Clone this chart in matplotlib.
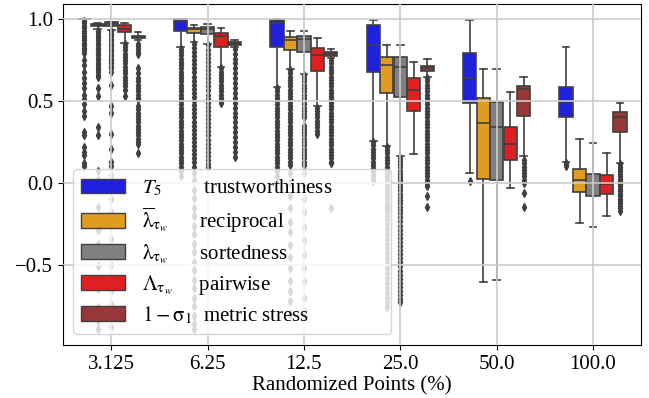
import matplotlib as mpl
import matplotlib.pyplot as plt
from matplotlib.patches import Patch

# x categories: share of randomized points (%)
groups = ["3.125", "6.25", "12.5", "25.0", "50.0", "100.0"]

labels = [
    r"$T_5$        trustworthiness",
    r"$\overline{\mathrm{\lambda}}_{\mathrm{\tau}_w}$      reciprocal",
    r"$\mathrm{\lambda}_{\mathrm{\tau}_w}$      sortedness",
    r"$\mathrm{\Lambda}_{\mathrm{\tau}_w}$     pairwise",
    r"$1-\mathrm{\sigma}_1$  metric stress",
]
colors = ["#2020df", "#df9c20", "#808080", "#df2020", "#983838"]
LINE = "#3f3f3f"

# (whislo, q1, median, q3, whishi) per group
trust = [(1.0, 1.0, 1.0, 1.0, 1.0), (0.833, 0.929, 0.99, 1.0, 1.0),
         (0.585, 0.833, 0.976, 0.996, 1.0), (0.259, 0.68, 0.843, 0.963, 0.998),
         (0.061, 0.487, 0.642, 0.796, 0.998), (0.128, 0.401, 0.495, 0.585, 0.833)]
recip = [(0.94, 0.958, 0.966, 0.972, 0.978), (0.859, 0.914, 0.939, 0.949, 0.965),
         (0.695, 0.813, 0.87, 0.89, 0.925), (0.228, 0.55, 0.719, 0.772, 0.843),
         (-0.605, 0.022, 0.365, 0.517, 0.695), (-0.246, -0.053, 0.016, 0.084, 0.267)]
sortd = [(0.935, 0.958, 0.97, 0.98, 0.985), (0.847, 0.91, 0.939, 0.955, 0.969),
         (0.666, 0.802, 0.88, 0.9, 0.929), (0.163, 0.527, 0.707, 0.772, 0.843),
         (-0.593, 0.016, 0.344, 0.495, 0.695), (-0.271, -0.081, 0.0, 0.057, 0.246)]
pairw = [(0.857, 0.921, 0.943, 0.965, 0.976), (0.711, 0.833, 0.898, 0.918, 0.945),
         (0.47, 0.684, 0.782, 0.827, 0.884), (0.179, 0.442, 0.566, 0.644, 0.741),
         (-0.029, 0.14, 0.236, 0.34, 0.554), (-0.2, -0.067, -0.004, 0.047, 0.181)]
stress = [(0.874, 0.884, 0.894, 0.9, 0.919), (0.829, 0.843, 0.853, 0.859, 0.874),
          (0.762, 0.778, 0.788, 0.798, 0.817), (0.646, 0.686, 0.705, 0.717, 0.756),
          (0.163, 0.411, 0.572, 0.593, 0.646), (0.12, 0.31, 0.405, 0.436, 0.491)]

# outliers per group
trust_fl = [
    [0.99, 0.975, 0.96, 0.945, 0.93, 0.915, 0.9, 0.885, 0.87, 0.855, 0.84, 0.825, 0.81, 0.795,
     0.75, 0.72, 0.68, 0.64, 0.61, 0.58, 0.54, 0.51, 0.48, 0.44, 0.41, 0.31, 0.29, 0.22, 0.19,
     0.17, 0.12, 0.105],
    [0.82, 0.8, 0.78, 0.76, 0.74, 0.72, 0.7, 0.68, 0.66, 0.64, 0.62, 0.6, 0.58, 0.56, 0.54,
     0.52, 0.5, 0.48, 0.46, 0.44, 0.42, 0.4, 0.38, 0.36, 0.34, 0.32, 0.3, 0.28, 0.26, 0.24,
     0.22, 0.2, 0.18, 0.16, 0.14, 0.12, 0.1, 0.07, 0.04],
    [0.58, 0.56, 0.54, 0.52, 0.5, 0.48, 0.46, 0.44, 0.42, 0.4, 0.38, 0.36, 0.34, 0.32, 0.3,
     0.28, 0.26, 0.24, 0.22, 0.2, 0.18, 0.16, 0.14, 0.12, 0.1, 0.07, 0.04],
    [0.25, 0.23, 0.21, 0.19, 0.17, 0.15, 0.13, 0.11, 0.09, 0.07, 0.05, 0.03, 0.01],
    [0.01],
    [0.12, 0.11, 0.105],
]
recip_fl = [
    [0.93, 0.915, 0.9, 0.885, 0.87, 0.855, 0.84, 0.825, 0.81, 0.795, 0.78, 0.765, 0.75, 0.735,
     0.72, 0.705, 0.69, 0.675, 0.66, 0.65, 0.58, 0.53, 0.34, 0.29, 0.07, 0.02, -0.145, -0.23,
     -0.29, -0.37, -0.43, -0.51, -0.61, -0.65, -0.76, -0.84, -0.89],
    [0.85, 0.825, 0.8, 0.775, 0.75, 0.725, 0.7, 0.675, 0.65, 0.625, 0.6, 0.575, 0.55, 0.525,
     0.5, 0.475, 0.45, 0.425, 0.4, 0.375, 0.35, 0.325, 0.3, 0.275, 0.25, 0.225, 0.2, 0.175,
     0.15, 0.125, 0.1, 0.06, 0.02, -0.04, -0.09, -0.15, -0.2, -0.26, -0.31, -0.37, -0.42,
     -0.48, -0.53, -0.59, -0.64, -0.7, -0.75, -0.81, -0.86, -0.89],
    [0.69, 0.67, 0.65, 0.63, 0.61, 0.59, 0.57, 0.55, 0.53, 0.51, 0.49, 0.47, 0.45, 0.43, 0.41,
     0.39, 0.37, 0.35, 0.33, 0.31, 0.29, 0.27, 0.25, 0.23, 0.21, 0.19, 0.17, 0.15, 0.13, 0.11,
     0.06, 0.0, -0.08, -0.15, -0.24, -0.3, -0.38, -0.45, -0.52, -0.6, -0.66, -0.72, -0.8],
    [0.22, 0.2, 0.18, 0.16, 0.14, 0.12, 0.1, 0.08, 0.06, 0.04, 0.02, 0.0, -0.02, -0.04, -0.06,
     -0.08, -0.1, -0.12, -0.14, -0.16, -0.18, -0.2, -0.22, -0.25, -0.28, -0.31, -0.34, -0.37,
     -0.4, -0.43, -0.46, -0.49, -0.52, -0.55, -0.58, -0.61, -0.64, -0.67, -0.7, -0.73, -0.756],
    [],
    [],
]
sortd_fl = [
    [0.925, 0.91, 0.895, 0.88, 0.865, 0.85, 0.835, 0.82, 0.805, 0.79, 0.775, 0.76, 0.745, 0.73,
     0.715, 0.7, 0.68, 0.6, 0.47, 0.43, 0.3, 0.21, 0.13, 0.105, 0.05, -0.02, -0.1, -0.18,
     -0.26, -0.34, -0.42, -0.5, -0.58, -0.66, -0.74, -0.82, -0.88],
    [0.84, 0.815, 0.79, 0.765, 0.74, 0.715, 0.69, 0.665, 0.64, 0.615, 0.59, 0.565, 0.54,
     0.515, 0.49, 0.465, 0.44, 0.415, 0.39, 0.365, 0.34, 0.315, 0.29, 0.265, 0.24, 0.215,
     0.19, 0.165, 0.14, 0.115, 0.1],
    [0.66, 0.64, 0.62, 0.6, 0.58, 0.56, 0.54, 0.52, 0.5, 0.48, 0.46, 0.44, 0.42, 0.4, 0.35,
     0.33, 0.31, 0.29, 0.27, 0.25, 0.23, 0.21, 0.19, 0.17, 0.15, 0.13, 0.11, 0.06, -0.02,
     -0.1, -0.18, -0.27, -0.35, -0.44, -0.52, -0.6, -0.7, -0.78],
    [0.155, 0.135, 0.115, 0.095, 0.075, 0.055, 0.035, 0.015, -0.005, -0.025, -0.045, -0.065,
     -0.085, -0.105, -0.125, -0.145, -0.165, -0.185, -0.21, -0.235, -0.26, -0.285, -0.31,
     -0.335, -0.36, -0.385, -0.41, -0.435, -0.46, -0.485, -0.51, -0.535, -0.56, -0.585, -0.61,
     -0.635, -0.66, -0.685, -0.71, -0.725],
    [],
    [],
]
pairw_fl = [
    [0.85, 0.83, 0.81, 0.79, 0.77, 0.75, 0.73, 0.71, 0.69, 0.67, 0.65, 0.63, 0.61, 0.59,
     0.57, 0.53],
    [0.7, 0.68, 0.66, 0.64, 0.62, 0.6, 0.58, 0.56, 0.54, 0.52, 0.5, 0.49],
    [0.46, 0.44, 0.42, 0.4, 0.38, 0.36, 0.34, 0.32, 0.3],
    [], [], [],
]
stress_fl = [
    [0.85, 0.835, 0.82, 0.8, 0.79, 0.7, 0.67, 0.64, 0.62, 0.6, 0.58, 0.56, 0.54, 0.52, 0.51,
     0.47, 0.45, 0.43, 0.41, 0.39, 0.37, 0.35, 0.33, 0.31, 0.29, 0.27, 0.25, 0.24, 0.18],
    [0.82, 0.79, 0.76, 0.73, 0.7, 0.67, 0.64, 0.61, 0.58, 0.55, 0.52, 0.49, 0.46, 0.43, 0.4,
     0.37, 0.34, 0.31, 0.28, 0.25, 0.22, 0.19, 0.16],
    [0.75, 0.73, 0.71, 0.69, 0.67, 0.65, 0.63, 0.61, 0.59, 0.57, 0.55, 0.53, 0.51, 0.49, 0.47,
     0.45, 0.43, 0.41, 0.39, 0.37, 0.35, 0.33, 0.31, 0.29, 0.27, 0.25, 0.23, 0.21, 0.19, 0.17,
     0.15, 0.13, 0.12, -0.155],
    [0.64, 0.62, 0.6, 0.58, 0.56, 0.54, 0.52, 0.5, 0.48, 0.46, 0.44, 0.42, 0.4, 0.38, 0.36,
     0.34, 0.32, 0.3, 0.28, 0.26, 0.24, 0.22, 0.2, 0.18, 0.16, 0.14, 0.12, 0.1, 0.08, 0.06,
     0.04, 0.02, 0.0, -0.02, -0.08, -0.145],
    [0.14, 0.12, 0.1, 0.08, 0.06, 0.04, 0.02, 0.0, -0.059, -0.145],
    [0.115, 0.1, 0.085, 0.07, 0.055, 0.04, 0.025, 0.01, -0.005, -0.02, -0.035, -0.05, -0.065,
     -0.08, -0.095, -0.11, -0.125, -0.14, -0.155, -0.17],
]

series = [(trust, trust_fl), (recip, recip_fl), (sortd, sortd_fl),
          (pairw, pairw_fl), (stress, stress_fl)]

mpl.rcParams['font.family'] = 'serif'
mpl.rcParams['font.serif'] = ['Liberation Serif', 'DejaVu Serif']
mpl.rcParams['mathtext.fontset'] = 'stix'
mpl.rcParams['font.size'] = 15

fig = plt.figure(figsize=(6.49, 3.98), dpi=100)
ax = fig.add_axes([0.097, 0.133, 0.891, 0.857])

step = 0.14
for j, (summ, fl) in enumerate(series):
    stats = []
    for (lo, q1, med, q3, hi), f in zip(summ, fl):
        stats.append(dict(whislo=lo, q1=q1, med=med, q3=q3, whishi=hi, fliers=f))
    pos = [i + (j - 2) * step for i in range(len(groups))]
    ax.bxp(stats, positions=pos, widths=step * 0.98, capwidths=step * 0.5,
           patch_artist=True, manage_ticks=False,
           boxprops=dict(facecolor=colors[j], edgecolor=LINE, linewidth=1.2),
           medianprops=dict(color=LINE, linewidth=1.2),
           whiskerprops=dict(color=LINE, linewidth=1.2),
           capprops=dict(color=LINE, linewidth=1.2),
           flierprops=dict(marker='d', markersize=3.8, markerfacecolor=LINE,
                           markeredgecolor=LINE, linestyle='none'))

ax.set_xlim(-0.5, len(groups) - 0.5)
ax.set_ylim(-0.99, 1.093)
ax.set_xticks(range(len(groups)))
ax.set_xticklabels(groups)
ax.set_yticks([-0.5, 0.0, 0.5, 1.0])
ax.grid(True, color='#cccccc', linewidth=1.2)
ax.set_axisbelow(False)
ax.set_xlabel("Randomized Points (%)", labelpad=2)

handles = [Patch(facecolor=c, edgecolor=LINE) for c in colors]
ax.legend(handles, labels, loc='lower left', bbox_to_anchor=(0.017, 0.032, 0.55, 0.3),
          mode='expand', borderaxespad=0, framealpha=0.8, labelspacing=0.35,
          handlelength=2.1, handleheight=0.7)

plt.savefig('out.png')
